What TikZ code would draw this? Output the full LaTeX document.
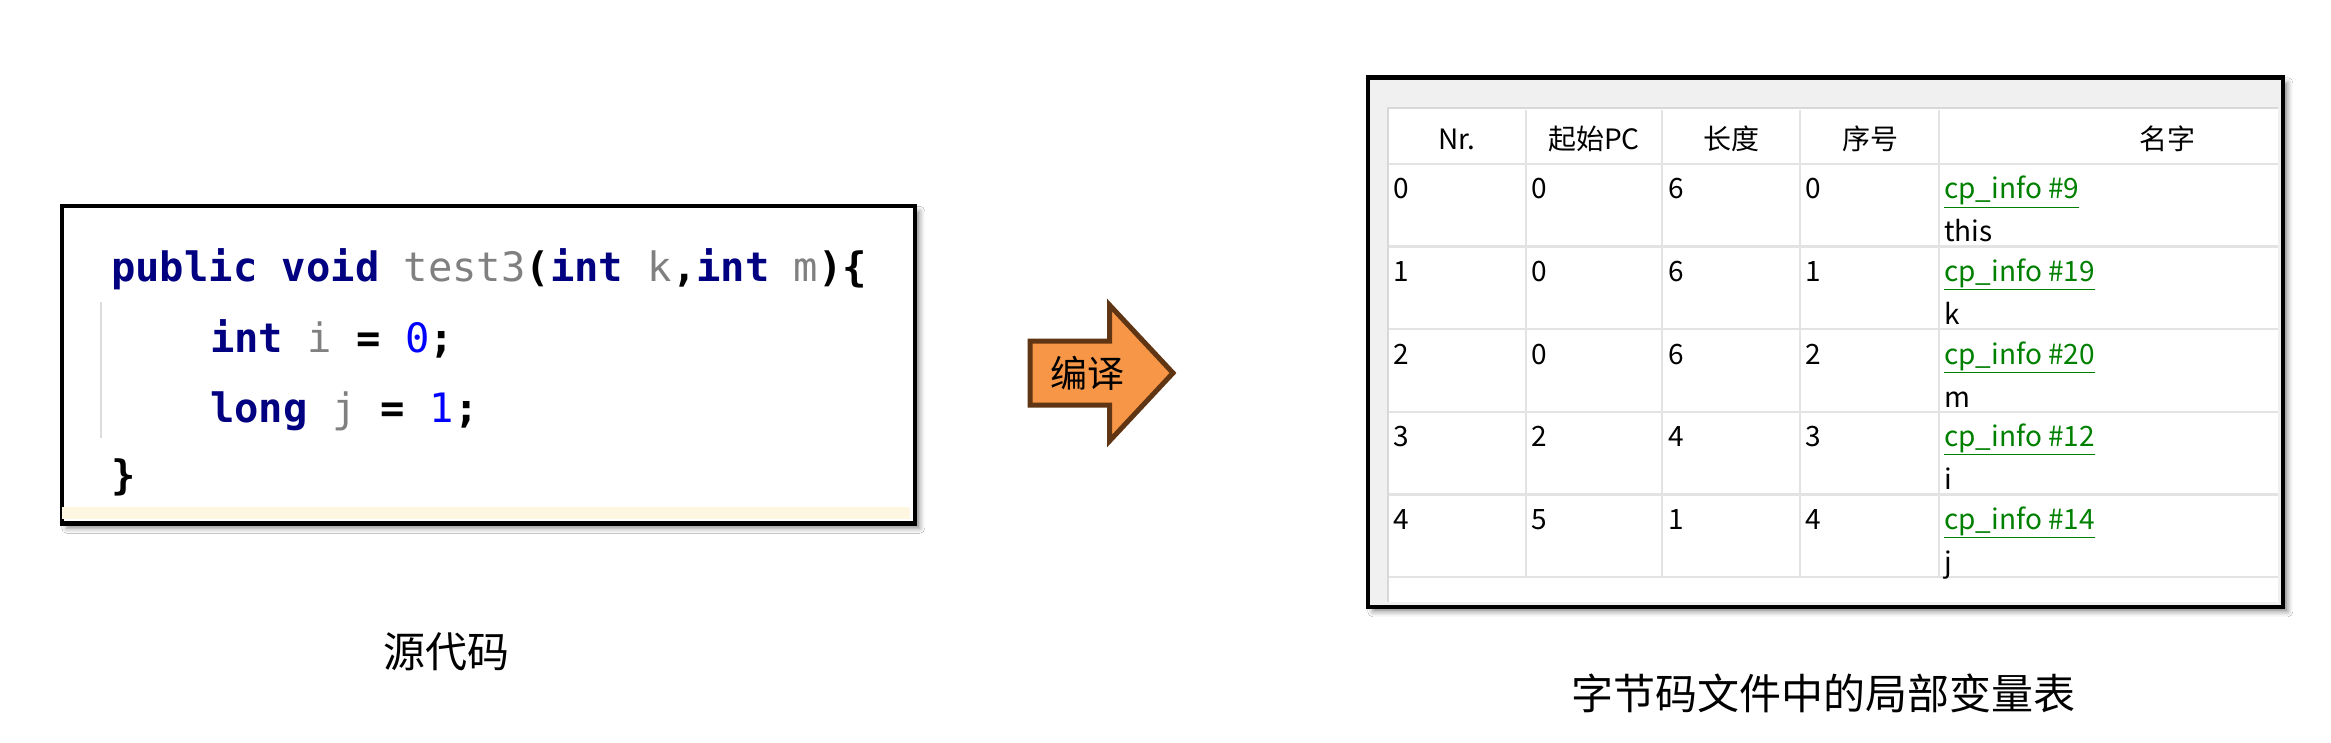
\documentclass[tikz,border=0pt]{standalone}
\usepackage{fontspec}
\setmainfont{Noto Sans CJK SC}
\setmonofont{DejaVu Sans Mono}
\usetikzlibrary{shadows.blur}
\definecolor{kw}{HTML}{000080}
\definecolor{idg}{HTML}{808080}
\definecolor{num}{HTML}{0000FF}
\definecolor{stripcol}{HTML}{FDF7E2}
\definecolor{guidecol}{HTML}{DCDCDC}
\definecolor{panelcol}{HTML}{F0F0F0}
\definecolor{gridcol}{HTML}{E3E3E3}
\definecolor{edgecol}{HTML}{D8D8D8}
\definecolor{linkcol}{HTML}{008000}
\definecolor{arrowfill}{HTML}{F79646}
\definecolor{arrowline}{HTML}{603513}
\begin{document}
\begin{tikzpicture}[x=1pt,y=-1pt,
  framebox/.style={draw=black, line width=4.5pt, anchor=north west, inner sep=0pt,
    blur shadow={shadow xshift=5pt, shadow yshift=-5pt, shadow blur radius=5pt, shadow opacity=45}},
  codeline/.style={anchor=base west, inner sep=0pt, font=\fontsize{40.5}{48}\selectfont\ttfamily\bfseries},
  cell/.style={anchor=base west, inner sep=0pt, font=\fontsize{28}{34}\selectfont},
  head/.style={anchor=base, inner sep=0pt, font=\fontsize{28}{34}\selectfont},
  caption/.style={inner sep=0pt, font=\fontsize{42}{50}\selectfont},
  gridline/.style={draw=gridcol, line width=2.5pt},
  arrowshape/.style={draw=arrowline, fill=arrowfill, line width=5pt, line join=miter}
]
\useasboundingbox[fill=white] (0,0) rectangle (2331,743);

% ---------- source code box ----------
\node[framebox, fill=white, minimum width=853pt, minimum height=317pt] (codebox) at (59.5,204) {};
\fill[stripcol] (62,507) rectangle (910,519);
\draw[guidecol, line width=2pt] (101,302) -- (101,438);

\node[codeline] (l1) at (111,282) {{\color{kw}public void} {\mdseries\color{idg}test3}({\color{kw}int} {\mdseries\color{idg}k},{\color{kw}int} {\mdseries\color{idg}m})\{};
\node[codeline] (l2) at (210,352) {{\color{kw}int} {\mdseries\color{idg}i} = {\mdseries\color{num}0};};
\node[codeline] (l3) at (210,422) {{\color{kw}long} {\mdseries\color{idg}j} = {\mdseries\color{num}1};};
\node[codeline] (l4) at (111,489) {\}};

\node[caption] (srclabel) at (446,652) {源代码};

% ---------- arrow ----------
\draw[arrowshape] (1030,341) -- (1109.5,341) -- (1109.5,305) -- (1173,373) -- (1109.5,441) -- (1109.5,405) -- (1030,405) -- cycle;
\node[inner sep=0pt, font=\fontsize{37}{42}\selectfont] (compile) at (1087,373) {编译};

% ---------- table box ----------
\node[framebox, fill=panelcol, minimum width=915pt, minimum height=529pt] (tablebox) at (1365.5,75.5) {};
\fill[white] (1388,108) rectangle (2278,601.5);
\draw[edgecol, line width=2.5pt] (1388,601.5) -- (1388,108) -- (2278,108);

\foreach \yy in {164,246.6,329.2,411.8,494.4,577}
  \draw[gridline] (1389,\yy) -- (2278,\yy);
\foreach \xx in {1526,1662,1800,1939}
  \draw[gridline] (\xx,110) -- (\xx,577);

\node[head] (hnr) at (1457,150) {Nr.};
\node[head] (hpc) at (1594,150) {起始PC};
\node[head] (hlen) at (1731,150) {长度};
\node[head] (hidx) at (1870,150) {序号};
\node[head] (hname) at (2167,150) {名字};

\foreach \a/\b/\c/\d/\cp/\nm [count=\i from 0] in
  {0/0/6/0/9/this, 1/0/6/1/19/k, 2/0/6/2/20/m, 3/2/4/3/12/i, 4/5/1/4/14/j}
{
  \pgfmathsetmacro{\top}{164+82.6*\i}
  \node[cell] (r\i a) at (1393,\top+35) {\a};
  \node[cell] (r\i b) at (1531,\top+35) {\b};
  \node[cell] (r\i c) at (1668,\top+35) {\c};
  \node[cell] (r\i d) at (1805,\top+35) {\d};
  \node[cell, text=linkcol] (r\i e) at (1944,\top+35) {\underline{cp\_info \#\cp}};
  \node[cell] (r\i f) at (1944,\top+78) {\nm};
}

\node[caption] (tbllabel) at (1823,693) {字节码文件中的局部变量表};
\end{tikzpicture}
\end{document}
